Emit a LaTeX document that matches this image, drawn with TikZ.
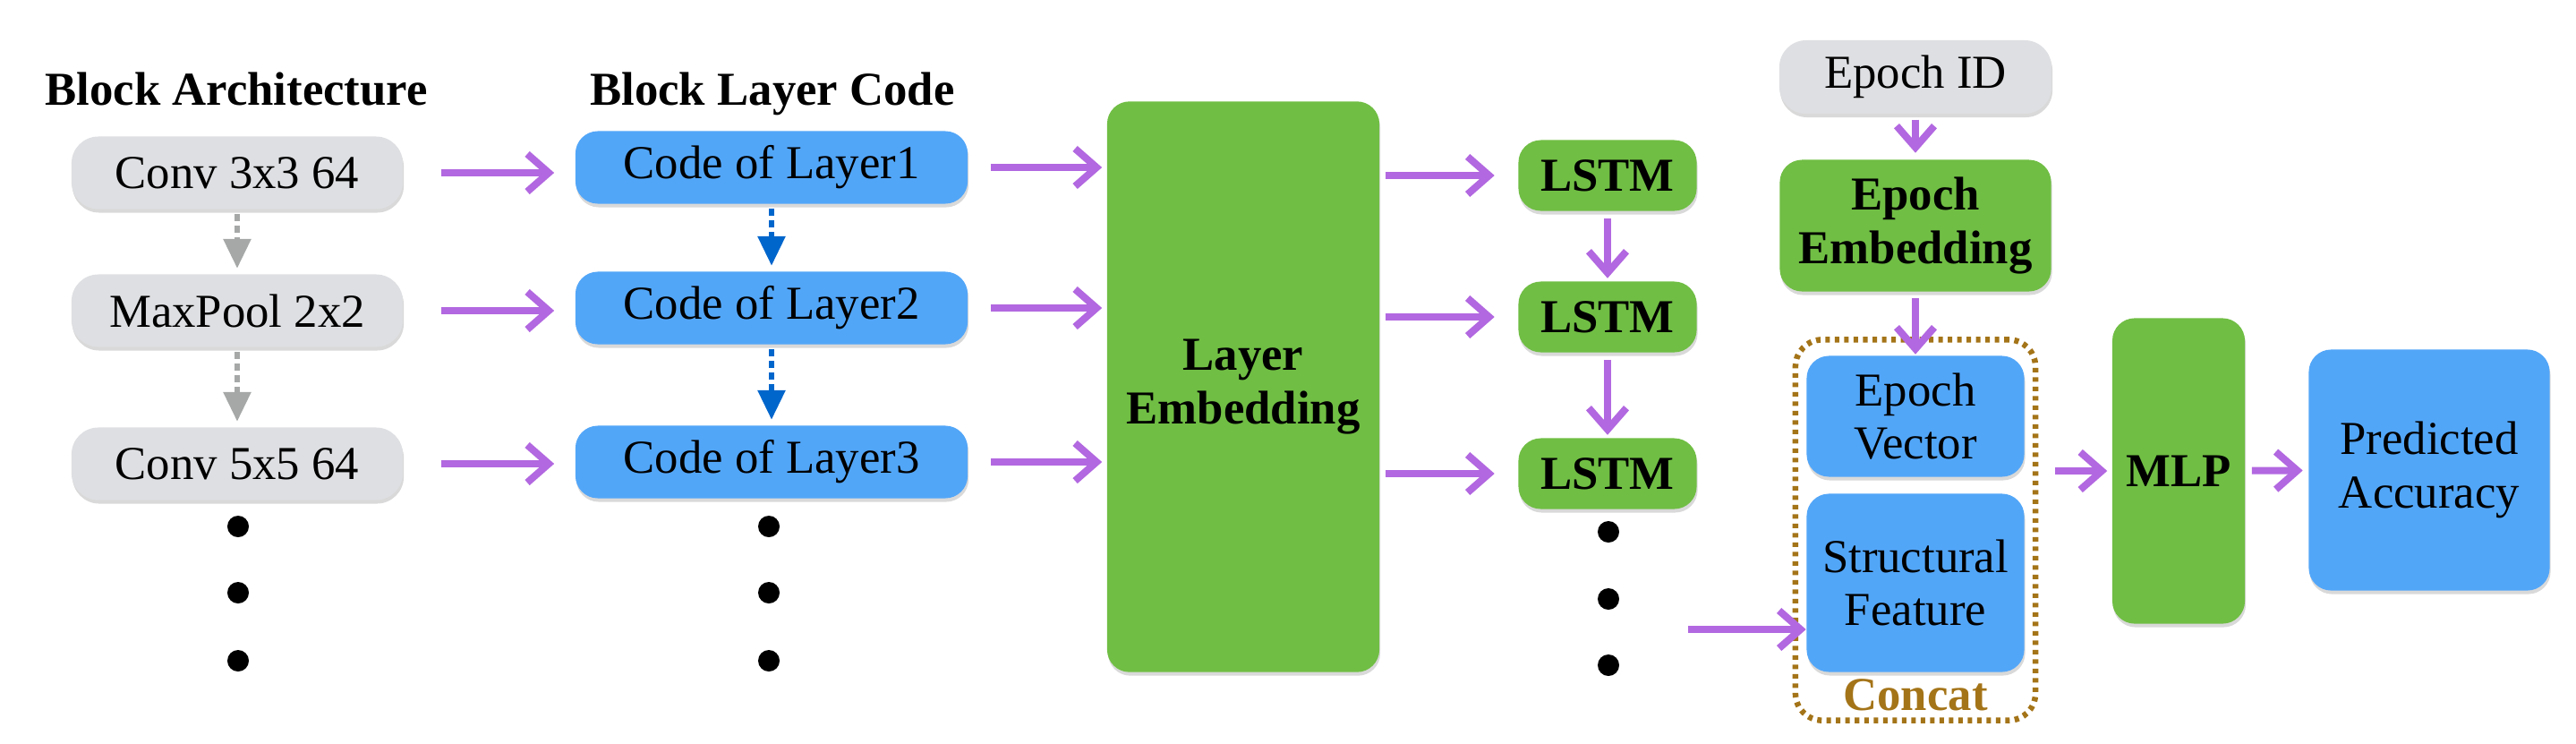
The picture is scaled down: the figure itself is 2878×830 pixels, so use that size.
\documentclass[tikz,border=0pt]{standalone}
\usepackage{fontspec}
\setmainfont{Liberation Serif}
\usetikzlibrary{arrows.meta, shadows}
\definecolor{archgray}{RGB}{222,223,226}
\definecolor{codeblue}{RGB}{82,166,248}
\definecolor{embgreen}{RGB}{112,190,68}
\definecolor{flowpurple}{RGB}{178,104,224}
\definecolor{linkgray}{RGB}{166,168,168}
\definecolor{linkblue}{RGB}{0,102,204}
\definecolor{concatbrown}{RGB}{164,116,24}

\begin{document}
\begin{tikzpicture}[x=0.01cm, y=-0.01cm,
  every node/.style={font=\fontsize{15pt}{17pt}\selectfont},
  box/.style={rounded corners=0.25cm, inner sep=0pt, align=center,
    drop shadow={shadow xshift=0.01cm, shadow yshift=-0.04cm, opacity=0.3}},
  archbox/.style={box, fill=archgray, minimum width=3.7cm, minimum height=0.81cm, rounded corners=0.3cm},
  codebox/.style={box, fill=codeblue, minimum width=4.38cm, minimum height=0.81cm},
  embbox/.style={box, fill=embgreen, font=\fontsize{15pt}{17pt}\selectfont\bfseries},
  title/.style={anchor=base, font=\fontsize{15pt}{17pt}\selectfont\bfseries},
  dot/.style={circle, fill=black, inner sep=0pt, minimum size=0.24cm},
  flow/.style={draw=flowpurple, line width=0.08cm, -{Straight Barb[length=0.24cm, width=0.42cm]}},
  archlink/.style={draw=linkgray, line width=0.06cm, dash pattern=on 0.08cm off 0.05cm,
    -{Triangle[length=0.33cm, width=0.3cm]}, shorten <=0.05cm, shorten >=0.06cm},
  codelink/.style={archlink, draw=linkblue}]
\useasboundingbox (0,0) rectangle (2878,830);

\node[title] (archtitle) at (264,117) {Block Architecture};
\node[title] (codetitle) at (863,117) {Block Layer Code};

\node[archbox] (g1) at (265,193) {Conv 3x3 64};
\node[archbox] (g2) at (265,347) {MaxPool 2x2};
\node[archbox] (g3) at (265,518) {Conv 5x5 64};
\node[codebox] (c1) at (862,187) {Code of Layer1};
\node[codebox] (c2) at (862,344) {Code of Layer2};
\node[codebox] (c3) at (862,516) {Code of Layer3};

\foreach \y/\k in {588/1, 662/2, 738/3} {
  \node[dot] (gdot\k) at (266,\y) {};
  \node[dot] (cdot\k) at (859,\y) {};
}

\node[embbox, minimum width=3.04cm, minimum height=6.37cm] (lemb) at (1389,432) {Layer\\Embedding};

\node[embbox, minimum width=1.99cm, minimum height=0.79cm] (l1) at (1796,196) {LSTM};
\node[embbox, minimum width=1.99cm, minimum height=0.79cm] (l2) at (1796,354) {LSTM};
\node[embbox, minimum width=1.99cm, minimum height=0.79cm] (l3) at (1796,529) {LSTM};
\foreach \y/\k in {594/1, 669/2, 743/3}
  \node[dot] (ldot\k) at (1797,\y) {};
\coordinate (lout) at (1886,703);

\node[archbox, minimum width=3.04cm, minimum height=0.82cm] (eid) at (2140,86) {Epoch ID};
\node[embbox, minimum width=3.03cm, minimum height=1.47cm] (eemb) at (2140,252) {Epoch\\Embedding};
\node[draw=concatbrown, line width=0.065cm, dash pattern=on 0.05cm off 0.055cm, rounded corners=0.3cm,
  minimum width=2.68cm, minimum height=4.25cm, inner sep=0pt] (concat) at (2140,592) {};
\node[codebox, minimum width=2.43cm, minimum height=1.35cm] (ev) at (2140,465) {Epoch\\Vector};
\node[codebox, minimum width=2.43cm, minimum height=1.99cm] (sf) at (2140,651) {Structural\\Feature};
\node[title, text=concatbrown] (concatlabel) at (2140,793) {Concat};

\node[embbox, minimum width=1.48cm, minimum height=3.41cm] (mlp) at (2434,526) {MLP};
\node[codebox, minimum width=2.69cm, minimum height=2.69cm] (pred) at (2714,525) {Predicted\\Accuracy};

\draw[archlink] (g1) -- (g2);
\draw[archlink] (g2) -- (g3);
\draw[codelink] (c1) -- (c2);
\draw[codelink] (c2) -- (c3);
\foreach \k in {1,2,3} {
  \draw[flow, shorten <=0.42cm, shorten >=0.23cm] (g\k) -- (g\k -| c\k.west);
  \draw[flow, shorten <=0.25cm, shorten >=0.05cm] (c\k) -- (c\k -| lemb.west);
  \draw[flow, shorten <=0.06cm, shorten >=0.26cm] (l\k -| lemb.east) -- (l\k);
}
\draw[flow, shorten <=0.08cm, shorten >=0.03cm] (l1) -- (l2);
\draw[flow, shorten <=0.08cm, shorten >=0.03cm] (l2) -- (l3);
\draw[flow] (lout) -- (lout -| sf.west);
\draw[flow, shorten <=0.06cm, shorten >=0.07cm] (eid) -- (eemb);
\draw[flow, shorten <=0.07cm, shorten >=0.01cm] (eemb) -- (ev);
\draw[flow, shorten <=0.19cm, shorten >=0.05cm] (concat.east |- mlp) -- (mlp);
\draw[flow, shorten <=0.07cm, shorten >=0.06cm] (mlp) -- (pred);
\end{tikzpicture}
\end{document}
